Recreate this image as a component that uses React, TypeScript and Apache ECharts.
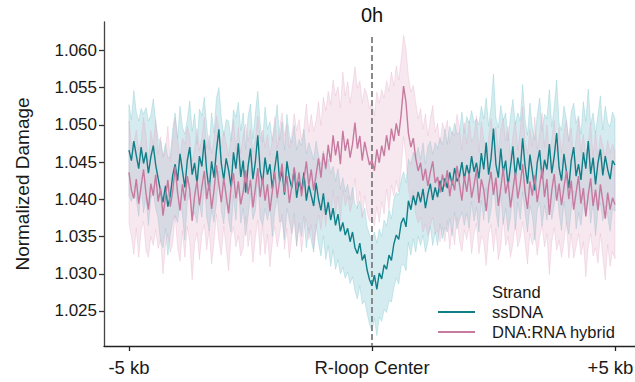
import React, { useEffect, useRef } from "react";
import * as echarts from "echarts";

// ---- data ----
const N = 201; // 50 bp bins from -5 kb to +5 kb
const positions: number[] = Array.from({ length: N }, (_, i) => -5000 + i * 50);

const ssDNA: number[] = [
  1.0466, 1.0452, 1.0478, 1.0459, 1.0441, 1.0470, 1.0448, 1.0463, 1.0435, 1.0457,
  1.0472, 1.0446, 1.0428, 1.0411, 1.0396, 1.0418, 1.0390, 1.0405, 1.0432, 1.0447,
  1.0425, 1.0461, 1.0438, 1.0416, 1.0452, 1.0470, 1.0433, 1.0449, 1.0421, 1.0458,
  1.0444, 1.0480, 1.0437, 1.0412, 1.0451, 1.0429, 1.0466, 1.0494, 1.0448, 1.0426,
  1.0455, 1.0439, 1.0417, 1.0463, 1.0441, 1.0475, 1.0430, 1.0452, 1.0409, 1.0444,
  1.0468, 1.0427, 1.0450, 1.0486, 1.0438, 1.0421, 1.0456, 1.0433, 1.0447, 1.0414,
  1.0442, 1.0465, 1.0424, 1.0438, 1.0406, 1.0451, 1.0429, 1.0415, 1.0440, 1.0402,
  1.0424, 1.0411, 1.0436, 1.0398, 1.0419, 1.0405, 1.0391, 1.0422, 1.0400, 1.0385,
  1.0408, 1.0379, 1.0396, 1.0372, 1.0388, 1.0365, 1.0380, 1.0357, 1.0369, 1.0352,
  1.0361, 1.0343, 1.0356, 1.0335, 1.0327, 1.0341, 1.0318, 1.0326, 1.0305, 1.0292,
  1.0284, 1.0298, 1.0279, 1.0301, 1.0293, 1.0312, 1.0306, 1.0325, 1.0318, 1.0340,
  1.0352, 1.0346, 1.0368, 1.0375, 1.0363, 1.0398, 1.0386, 1.0405, 1.0392, 1.0410,
  1.0396, 1.0414, 1.0388, 1.0407, 1.0421, 1.0399, 1.0416, 1.0403, 1.0425, 1.0410,
  1.0428, 1.0415, 1.0436, 1.0419, 1.0442, 1.0424, 1.0431, 1.0450, 1.0427, 1.0446,
  1.0432, 1.0458, 1.0437, 1.0449, 1.0428, 1.0462, 1.0440, 1.0476, 1.0433, 1.0455,
  1.0495, 1.0447, 1.0429, 1.0468, 1.0436, 1.0452, 1.0418, 1.0444, 1.0471, 1.0430,
  1.0456, 1.0439, 1.0482, 1.0445, 1.0421, 1.0460, 1.0437, 1.0412, 1.0449, 1.0466,
  1.0428, 1.0453, 1.0440, 1.0474, 1.0435, 1.0458, 1.0489, 1.0442, 1.0425, 1.0461,
  1.0438, 1.0415, 1.0452, 1.0470, 1.0431, 1.0447, 1.0426, 1.0463, 1.0441, 1.0478,
  1.0434, 1.0456, 1.0420, 1.0449, 1.0467, 1.0432, 1.0458, 1.0440, 1.0427, 1.0452,
  1.0446,
];
const ssDNAci: number[] = [
  0.0061, 0.0055, 0.0068, 0.0058, 0.0064, 0.0052, 0.0066, 0.0060, 0.0070, 0.0056,
  0.0063, 0.0058, 0.0054, 0.0067, 0.0061, 0.0057, 0.0065, 0.0053, 0.0062, 0.0069,
  0.0056, 0.0064, 0.0059, 0.0071, 0.0055, 0.0062, 0.0058, 0.0066, 0.0053, 0.0063,
  0.0068, 0.0057, 0.0061, 0.0054, 0.0065, 0.0060, 0.0070, 0.0056, 0.0063, 0.0059,
  0.0052, 0.0066, 0.0061, 0.0057, 0.0069, 0.0055, 0.0062, 0.0064, 0.0058, 0.0067,
  0.0060, 0.0054, 0.0065, 0.0059, 0.0063, 0.0056, 0.0068, 0.0061, 0.0057, 0.0064,
  0.0058, 0.0062, 0.0055, 0.0066, 0.0060, 0.0063, 0.0057, 0.0061, 0.0059, 0.0064,
  0.0056, 0.0061, 0.0058, 0.0063, 0.0057, 0.0060, 0.0062, 0.0056, 0.0059, 0.0061,
  0.0057, 0.0060, 0.0058, 0.0062, 0.0056, 0.0059, 0.0061, 0.0057, 0.0060, 0.0058,
  0.0059, 0.0056, 0.0060, 0.0058, 0.0061, 0.0057, 0.0059, 0.0062, 0.0058, 0.0060,
  0.0061, 0.0058, 0.0062, 0.0059, 0.0057, 0.0060, 0.0058, 0.0061, 0.0056, 0.0059,
  0.0057, 0.0060, 0.0058, 0.0062, 0.0059, 0.0056, 0.0061, 0.0058, 0.0063, 0.0060,
  0.0058, 0.0062, 0.0059, 0.0064, 0.0057, 0.0061, 0.0060, 0.0065, 0.0058, 0.0063,
  0.0066, 0.0059, 0.0062, 0.0068, 0.0060, 0.0064, 0.0058, 0.0067, 0.0062, 0.0065,
  0.0070, 0.0061, 0.0066, 0.0059, 0.0072, 0.0063, 0.0068, 0.0060, 0.0065, 0.0069,
  0.0073, 0.0062, 0.0067, 0.0058, 0.0070, 0.0064, 0.0061, 0.0068, 0.0063, 0.0071,
  0.0060, 0.0066, 0.0072, 0.0062, 0.0065, 0.0069, 0.0059, 0.0067, 0.0063, 0.0070,
  0.0064, 0.0061, 0.0068, 0.0073, 0.0062, 0.0066, 0.0071, 0.0060, 0.0067, 0.0064,
  0.0069, 0.0062, 0.0066, 0.0059, 0.0071, 0.0065, 0.0061, 0.0068, 0.0063, 0.0070,
  0.0066, 0.0060, 0.0069, 0.0064, 0.0072, 0.0061, 0.0067, 0.0063, 0.0070, 0.0065,
  0.0062,
];
const hybrid: number[] = [
  1.0436, 1.0412, 1.0401, 1.0427, 1.0394, 1.0418, 1.0440, 1.0408, 1.0386, 1.0421,
  1.0405, 1.0433, 1.0397, 1.0415, 1.0378, 1.0402, 1.0426, 1.0390, 1.0411, 1.0444,
  1.0409, 1.0385, 1.0420, 1.0398, 1.0431, 1.0413, 1.0371, 1.0404, 1.0425, 1.0392,
  1.0417, 1.0438, 1.0400, 1.0423, 1.0387, 1.0412, 1.0446, 1.0419, 1.0396, 1.0428,
  1.0405, 1.0381, 1.0416, 1.0435, 1.0401, 1.0424, 1.0393, 1.0410, 1.0439, 1.0407,
  1.0426, 1.0389, 1.0414, 1.0442, 1.0403, 1.0429, 1.0398, 1.0420, 1.0384, 1.0411,
  1.0437, 1.0402, 1.0425, 1.0448, 1.0409, 1.0431, 1.0395, 1.0418, 1.0443, 1.0414,
  1.0436, 1.0404, 1.0427, 1.0451, 1.0418, 1.0440, 1.0412, 1.0433, 1.0455, 1.0429,
  1.0462, 1.0441, 1.0473, 1.0450, 1.0486, 1.0459, 1.0478, 1.0447, 1.0492, 1.0465,
  1.0481, 1.0456, 1.0474, 1.0503, 1.0468, 1.0485, 1.0452, 1.0477, 1.0461, 1.0446,
  1.0453, 1.0438, 1.0467, 1.0449, 1.0472, 1.0458, 1.0486, 1.0466, 1.0495, 1.0478,
  1.0502, 1.0485, 1.0514, 1.0552, 1.0530, 1.0488, 1.0470, 1.0482, 1.0455, 1.0438,
  1.0449, 1.0425, 1.0441, 1.0418, 1.0436, 1.0451, 1.0422, 1.0430, 1.0409, 1.0433,
  1.0417, 1.0439, 1.0404, 1.0426, 1.0412, 1.0445, 1.0420, 1.0398, 1.0431, 1.0410,
  1.0435, 1.0402, 1.0419, 1.0440, 1.0395, 1.0427, 1.0413, 1.0384, 1.0418, 1.0437,
  1.0406, 1.0429, 1.0391, 1.0415, 1.0442, 1.0408, 1.0424, 1.0389, 1.0413, 1.0436,
  1.0401, 1.0420, 1.0447, 1.0410, 1.0387, 1.0424, 1.0405, 1.0432, 1.0396, 1.0418,
  1.0441, 1.0403, 1.0427, 1.0379, 1.0412, 1.0434, 1.0398, 1.0421, 1.0392, 1.0416,
  1.0438, 1.0400, 1.0425, 1.0386, 1.0409, 1.0431, 1.0394, 1.0415, 1.0377, 1.0406,
  1.0428, 1.0391, 1.0413, 1.0385, 1.0420, 1.0398, 1.0374, 1.0409, 1.0386, 1.0402,
  1.0393,
];
const hybridCi: number[] = [
  0.0069, 0.0062, 0.0075, 0.0066, 0.0072, 0.0060, 0.0070, 0.0077, 0.0064, 0.0071,
  0.0067, 0.0074, 0.0063, 0.0069, 0.0078, 0.0065, 0.0072, 0.0061, 0.0070, 0.0066,
  0.0073, 0.0068, 0.0062, 0.0076, 0.0067, 0.0071, 0.0079, 0.0064, 0.0070, 0.0073,
  0.0065, 0.0072, 0.0068, 0.0063, 0.0074, 0.0069, 0.0066, 0.0075, 0.0071, 0.0064,
  0.0070, 0.0077, 0.0067, 0.0072, 0.0065, 0.0073, 0.0069, 0.0076, 0.0062, 0.0071,
  0.0068, 0.0074, 0.0066, 0.0070, 0.0078, 0.0064, 0.0072, 0.0067, 0.0075, 0.0069,
  0.0073, 0.0066, 0.0071, 0.0068, 0.0076, 0.0070, 0.0074, 0.0067, 0.0072, 0.0078,
  0.0071, 0.0075, 0.0069, 0.0077, 0.0072, 0.0074, 0.0079, 0.0073, 0.0076, 0.0070,
  0.0075, 0.0078, 0.0072, 0.0077, 0.0074, 0.0080, 0.0073, 0.0076, 0.0079, 0.0074,
  0.0077, 0.0073, 0.0078, 0.0075, 0.0081, 0.0074, 0.0077, 0.0072, 0.0079, 0.0076,
  0.0078, 0.0074, 0.0077, 0.0080, 0.0075, 0.0078, 0.0073, 0.0079, 0.0076, 0.0074,
  0.0077, 0.0075, 0.0073, 0.0068, 0.0072, 0.0076, 0.0074, 0.0071, 0.0075, 0.0070,
  0.0073, 0.0069, 0.0074, 0.0067, 0.0071, 0.0075, 0.0068, 0.0072, 0.0066, 0.0070,
  0.0074, 0.0067, 0.0071, 0.0065, 0.0073, 0.0069, 0.0076, 0.0068, 0.0072, 0.0064,
  0.0070, 0.0075, 0.0066, 0.0072, 0.0068, 0.0077, 0.0069, 0.0073, 0.0065, 0.0071,
  0.0076, 0.0068, 0.0072, 0.0079, 0.0066, 0.0070, 0.0074, 0.0067, 0.0073, 0.0069,
  0.0065, 0.0072, 0.0077, 0.0068, 0.0074, 0.0070, 0.0066, 0.0078, 0.0071, 0.0069,
  0.0075, 0.0067, 0.0073, 0.0080, 0.0069, 0.0072, 0.0066, 0.0076, 0.0070, 0.0074,
  0.0068, 0.0079, 0.0071, 0.0065, 0.0073, 0.0077, 0.0069, 0.0072, 0.0081, 0.0070,
  0.0074, 0.0067, 0.0078, 0.0071, 0.0066, 0.0075, 0.0082, 0.0070, 0.0076, 0.0072,
  0.0073,
];

const seriesNames = ["ssDNA", "DNA:RNA hybrid"];
const xTickValues = [-5000, 0, 5000];
const xTickLabels = ["-5 kb", "R-loop Center", "+5 kb"];
const yTickValues = [1.025, 1.03, 1.035, 1.04, 1.045, 1.05, 1.055, 1.06];
const centerLine = [[0, 1.0618], [0, 1.0203]];

const TEAL = "#0f7f88";
const PINK = "#c77a9f";
const FONT = "Liberation Sans, Arial, sans-serif";

function band(name: string, mean: number[], ci: number[], fill: string, edge: string) {
  return {
    type: "custom",
    name,
    silent: true,
    z: 1,
    data: [[0, mean[0]]],
    renderItem: (_p: any, api: any) => {
      const pts: number[][] = [];
      for (let i = 0; i < mean.length; i++) pts.push(api.coord([positions[i], mean[i] + ci[i]]));
      for (let i = mean.length - 1; i >= 0; i--) pts.push(api.coord([positions[i], mean[i] - ci[i]]));
      return {
        type: "polygon",
        shape: { points: pts },
        style: { fill, stroke: edge, lineWidth: 1 },
      };
    },
  };
}

export default function App() {
  const ref = useRef<HTMLDivElement>(null);
  useEffect(() => {
    if (!ref.current) return;
    const chart = echarts.init(ref.current, null, { renderer: "svg" });
    const option: any = {
      animation: false,
      backgroundColor: "#ffffff",
      textStyle: { fontFamily: FONT },
      grid: { left: 104, right: 0, top: 22, bottom: 36, containLabel: false, outerBoundsMode: "none" },
      xAxis: {
        type: "value",
        min: -5514,
        max: 5412,
        splitLine: { show: false },
        axisLine: { show: true, onZero: false, lineStyle: { color: "#222", width: 1.3 } },
        axisTick: { show: true, customValues: xTickValues, length: 5, lineStyle: { color: "#222", width: 1.3 } },
        axisLabel: {
          customValues: xTickValues,
          margin: 12,
          fontSize: 18.5,
          color: "#1a1a1a",
          fontFamily: FONT,
          formatter: (v: number) => {
            const k = xTickValues.findIndex((t) => Math.abs(t - v) < 1e-6);
            if (k < 0) return "";
            return k === xTickValues.length - 1 ? "{last|" + xTickLabels[k] + "}" : xTickLabels[k];
          },
          rich: {
            last: { fontSize: 18.5, color: "#1a1a1a", fontFamily: FONT, padding: [0, 9, 0, 0] },
          },
        },
      },
      yAxis: {
        type: "value",
        min: 1.0203,
        max: 1.0638,
        name: "Normalized Damage",
        nameLocation: "middle",
        nameGap: 72,
        nameTextStyle: { fontSize: 19, color: "#1a1a1a", fontFamily: FONT },
        splitLine: { show: false },
        axisLine: { show: true, onZero: false, lineStyle: { color: "#444", width: 1.3 } },
        axisTick: { show: true, customValues: yTickValues, length: 5, lineStyle: { color: "#333", width: 1.3 } },
        axisLabel: {
          customValues: yTickValues,
          margin: 7,
          fontSize: 17,
          color: "#1a1a1a",
          fontFamily: FONT,
          formatter: (v: number) => v.toFixed(3),
        },
      },
      legend: {
        data: seriesNames,
        orient: "vertical",
        left: 438,
        top: 302,
        padding: 0,
        itemGap: 0,
        icon: "rect",
        itemWidth: 37,
        itemHeight: 2,
        textStyle: { fontSize: 16.5, color: "#1a1a1a", fontFamily: FONT, lineHeight: 20, padding: [0, 0, 0, 12] },
      },
      graphic: [
        { type: "text", x: 372, y: 15, z: 10, style: { text: "0h", fontSize: 20, fill: "#111", fontFamily: FONT, textAlign: "center", textVerticalAlign: "middle" } },
        { type: "text", x: 492, y: 292, z: 10, style: { text: "Strand", fontSize: 16.5, fill: "#1a1a1a", fontFamily: FONT, textAlign: "left", textVerticalAlign: "middle" } },
      ],
      series: [
        band("ssDNA CI", ssDNA, ssDNAci, "rgba(125,198,205,0.33)", "rgba(125,198,205,0.35)"),
        band("DNA:RNA hybrid CI", hybrid, hybridCi, "rgba(226,168,195,0.27)", "rgba(226,168,195,0.3)"),
        {
          type: "line",
          name: "center",
          z: 2,
          silent: true,
          data: centerLine,
          symbol: "none",
          showSymbol: false,
          lineStyle: { color: "#7f7f7f", width: 1.8, type: [6, 3] },
        },
        {
          type: "line",
          name: "ssDNA",
          z: 3,
          data: positions.map((x, i) => [x, ssDNA[i]]),
          symbol: "none",
          showSymbol: false,
          lineStyle: { color: TEAL, width: 1.4 },
          itemStyle: { color: TEAL },
        },
        {
          type: "line",
          name: "DNA:RNA hybrid",
          z: 3,
          data: positions.map((x, i) => [x, hybrid[i]]),
          symbol: "none",
          showSymbol: false,
          lineStyle: { color: PINK, width: 1.4 },
          itemStyle: { color: PINK },
        },
      ],
    };
    chart.setOption(option);
    return () => chart.dispose();
  }, []);
  return <div ref={ref} style={{ position: "fixed", left: 0, top: 0, width: 635, height: 382 }} />;
}
